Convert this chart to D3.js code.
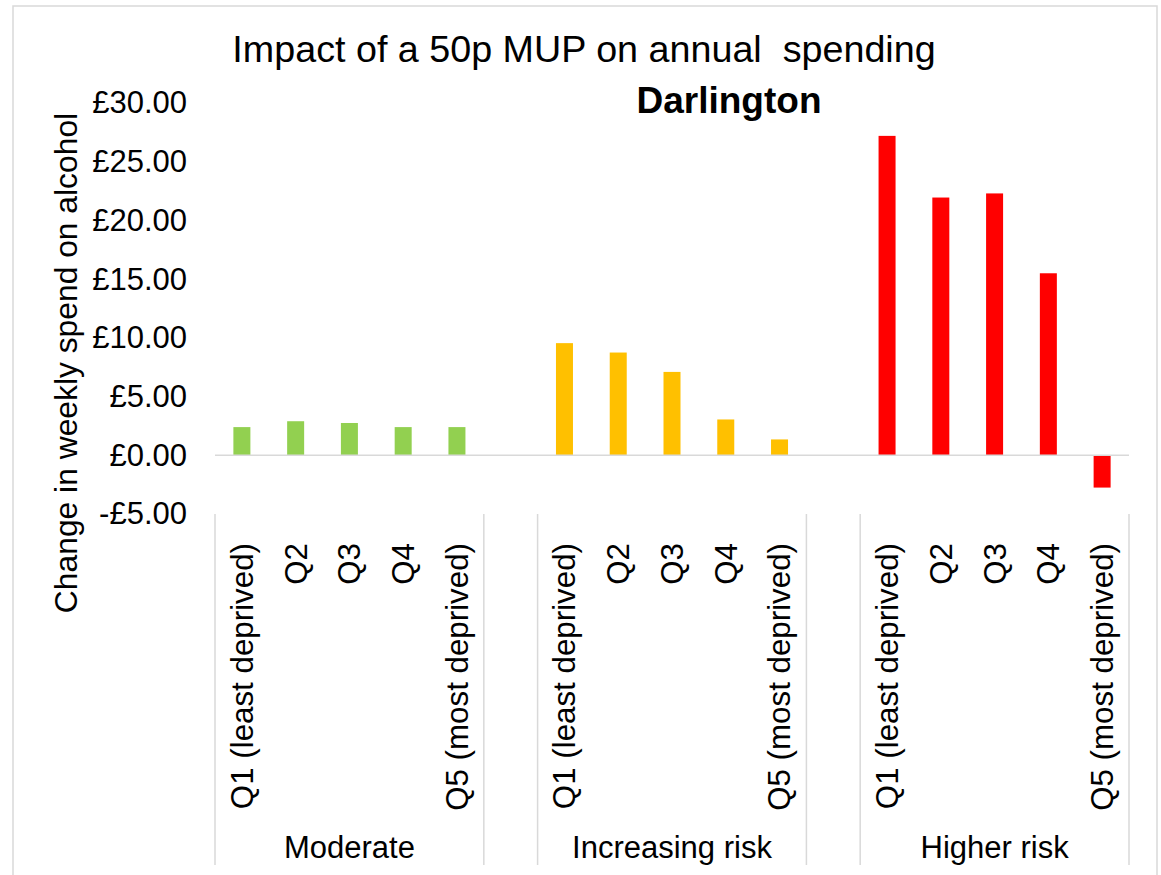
<!DOCTYPE html>
<html>
<head>
<meta charset="utf-8">
<script src="https://cdn.jsdelivr.net/npm/d3@7"></script>
<style>
  html, body { margin: 0; padding: 0; background: #fff; }
  svg { display: block; font-family: "Liberation Sans", Arial, sans-serif; }
</style>
</head>
<body>
<div id="chart"></div>
<script>
// ---- data ----
const groups = ["Moderate", "Increasing risk", "Higher risk"];
const quintiles = ["Q1 (least deprived)", "Q2", "Q3", "Q4", "Q5 (most deprived)"];
const moderate = [2.40, 2.90, 2.75, 2.40, 2.40];
const increasingRisk = [9.55, 8.75, 7.10, 3.05, 1.35];
const higherRisk = [27.20, 21.95, 22.30, 15.50, -2.75];
const groupColors = ["#92D050", "#FFC000", "#FF0000"];
const yTicks = [-5, 0, 5, 10, 15, 20, 25, 30];
const titleText = "Impact of a 50p MUP on annual\u00A0 spending";
const subtitleText = "Darlington";
const yTitle = "Change in weekly spend on alcohol";

const seriesValues = [moderate, increasingRisk, higherRisk];

// build slots: each group's 5 quintiles, with a blank slot between groups
const slots = [];
groups.forEach((g, gi) => {
  quintiles.forEach((q, qi) => {
    slots.push({ key: g + "|" + qi, group: g, gi, label: q, value: seriesValues[gi][qi] });
  });
  if (gi < groups.length - 1) slots.push({ key: "blank" + gi, blank: true, gi });
});

const W = 1161, H = 875;
const svg = d3.select("#chart").append("svg").attr("width", W).attr("height", H);

// chart border
svg.append("rect").attr("x", 13).attr("y", 6).attr("width", 1144).attr("height", 880)
  .attr("fill", "none").attr("stroke", "#D9D9D9").attr("stroke-width", 1.5);

const x = d3.scaleBand().domain(slots.map(d => d.key)).range([215, 1129]);
const y = d3.scaleLinear().domain([-5, 30]).range([514, 103]);

// title
svg.append("text").attr("x", 584).attr("y", 62).attr("text-anchor", "middle")
  .attr("font-size", 37.7).attr("fill", "#000").text(titleText);
svg.append("text").attr("x", 729).attr("y", 113).attr("text-anchor", "middle")
  .attr("font-size", 37).attr("font-weight", "bold").attr("fill", "#000").text(subtitleText);

// y axis tick labels
const yAxis = d3.axisLeft(y).tickValues(yTicks).tickSize(0).tickPadding(0)
  .tickFormat(v => (v < 0 ? "-£" : "£") + Math.abs(v).toFixed(2));
const yg = svg.append("g").attr("transform", "translate(187,0)").call(yAxis);
yg.select(".domain").remove();
yg.selectAll("text").attr("font-size", 31).attr("fill", "#000")
  .attr("font-family", "Liberation Sans, Arial, sans-serif");

// y title
svg.append("text").attr("transform", "translate(77,363) rotate(-90)")
  .attr("text-anchor", "middle").attr("font-size", 31.8).attr("fill", "#000").text(yTitle);

// bars
const barW = 17;
svg.append("g").selectAll("rect").data(slots.filter(d => !d.blank)).join("rect")
  .attr("x", d => x(d.key) + x.bandwidth() / 2 - barW / 2)
  .attr("y", d => y(Math.max(0, d.value)))
  .attr("width", barW)
  .attr("height", d => Math.abs(y(d.value) - y(0)))
  .attr("fill", d => groupColors[d.gi]);

// zero line
svg.append("line").attr("x1", 215).attr("x2", 1129).attr("y1", y(0)).attr("y2", y(0))
  .attr("stroke", "#D9D9D9").attr("stroke-width", 1.5);

// category separators: at start of each group, before and after blank slots, end
const sepXs = [];
slots.forEach((d, i) => {
  if (i === 0 || d.blank || (slots[i - 1] && slots[i - 1].blank)) sepXs.push(x(d.key));
});
sepXs.push(x(slots[slots.length - 1].key) + x.bandwidth());
svg.append("g").selectAll("line").data(sepXs).join("line")
  .attr("x1", d => d).attr("x2", d => d).attr("y1", 514).attr("y2", 865)
  .attr("stroke", "#D9D9D9").attr("stroke-width", 1.5);

// category labels (rotated)
svg.append("g").selectAll("text").data(slots.filter(d => !d.blank)).join("text")
  .attr("transform", d => `translate(${x(d.key) + x.bandwidth() / 2},543) rotate(-90)`)
  .attr("text-anchor", "end").attr("dy", "0.35em")
  .attr("font-size", 31.3).attr("fill", "#000").text(d => d.label);

// group labels
svg.append("g").selectAll("text").data(groups).join("text")
  .attr("x", (g, gi) => {
    const keys = slots.filter(d => !d.blank && d.gi === gi);
    return (x(keys[0].key) + x(keys[keys.length - 1].key) + x.bandwidth()) / 2;
  })
  .attr("y", 858).attr("text-anchor", "middle").attr("font-size", 31).attr("fill", "#000")
  .text(d => d);
</script>
</body>
</html>
